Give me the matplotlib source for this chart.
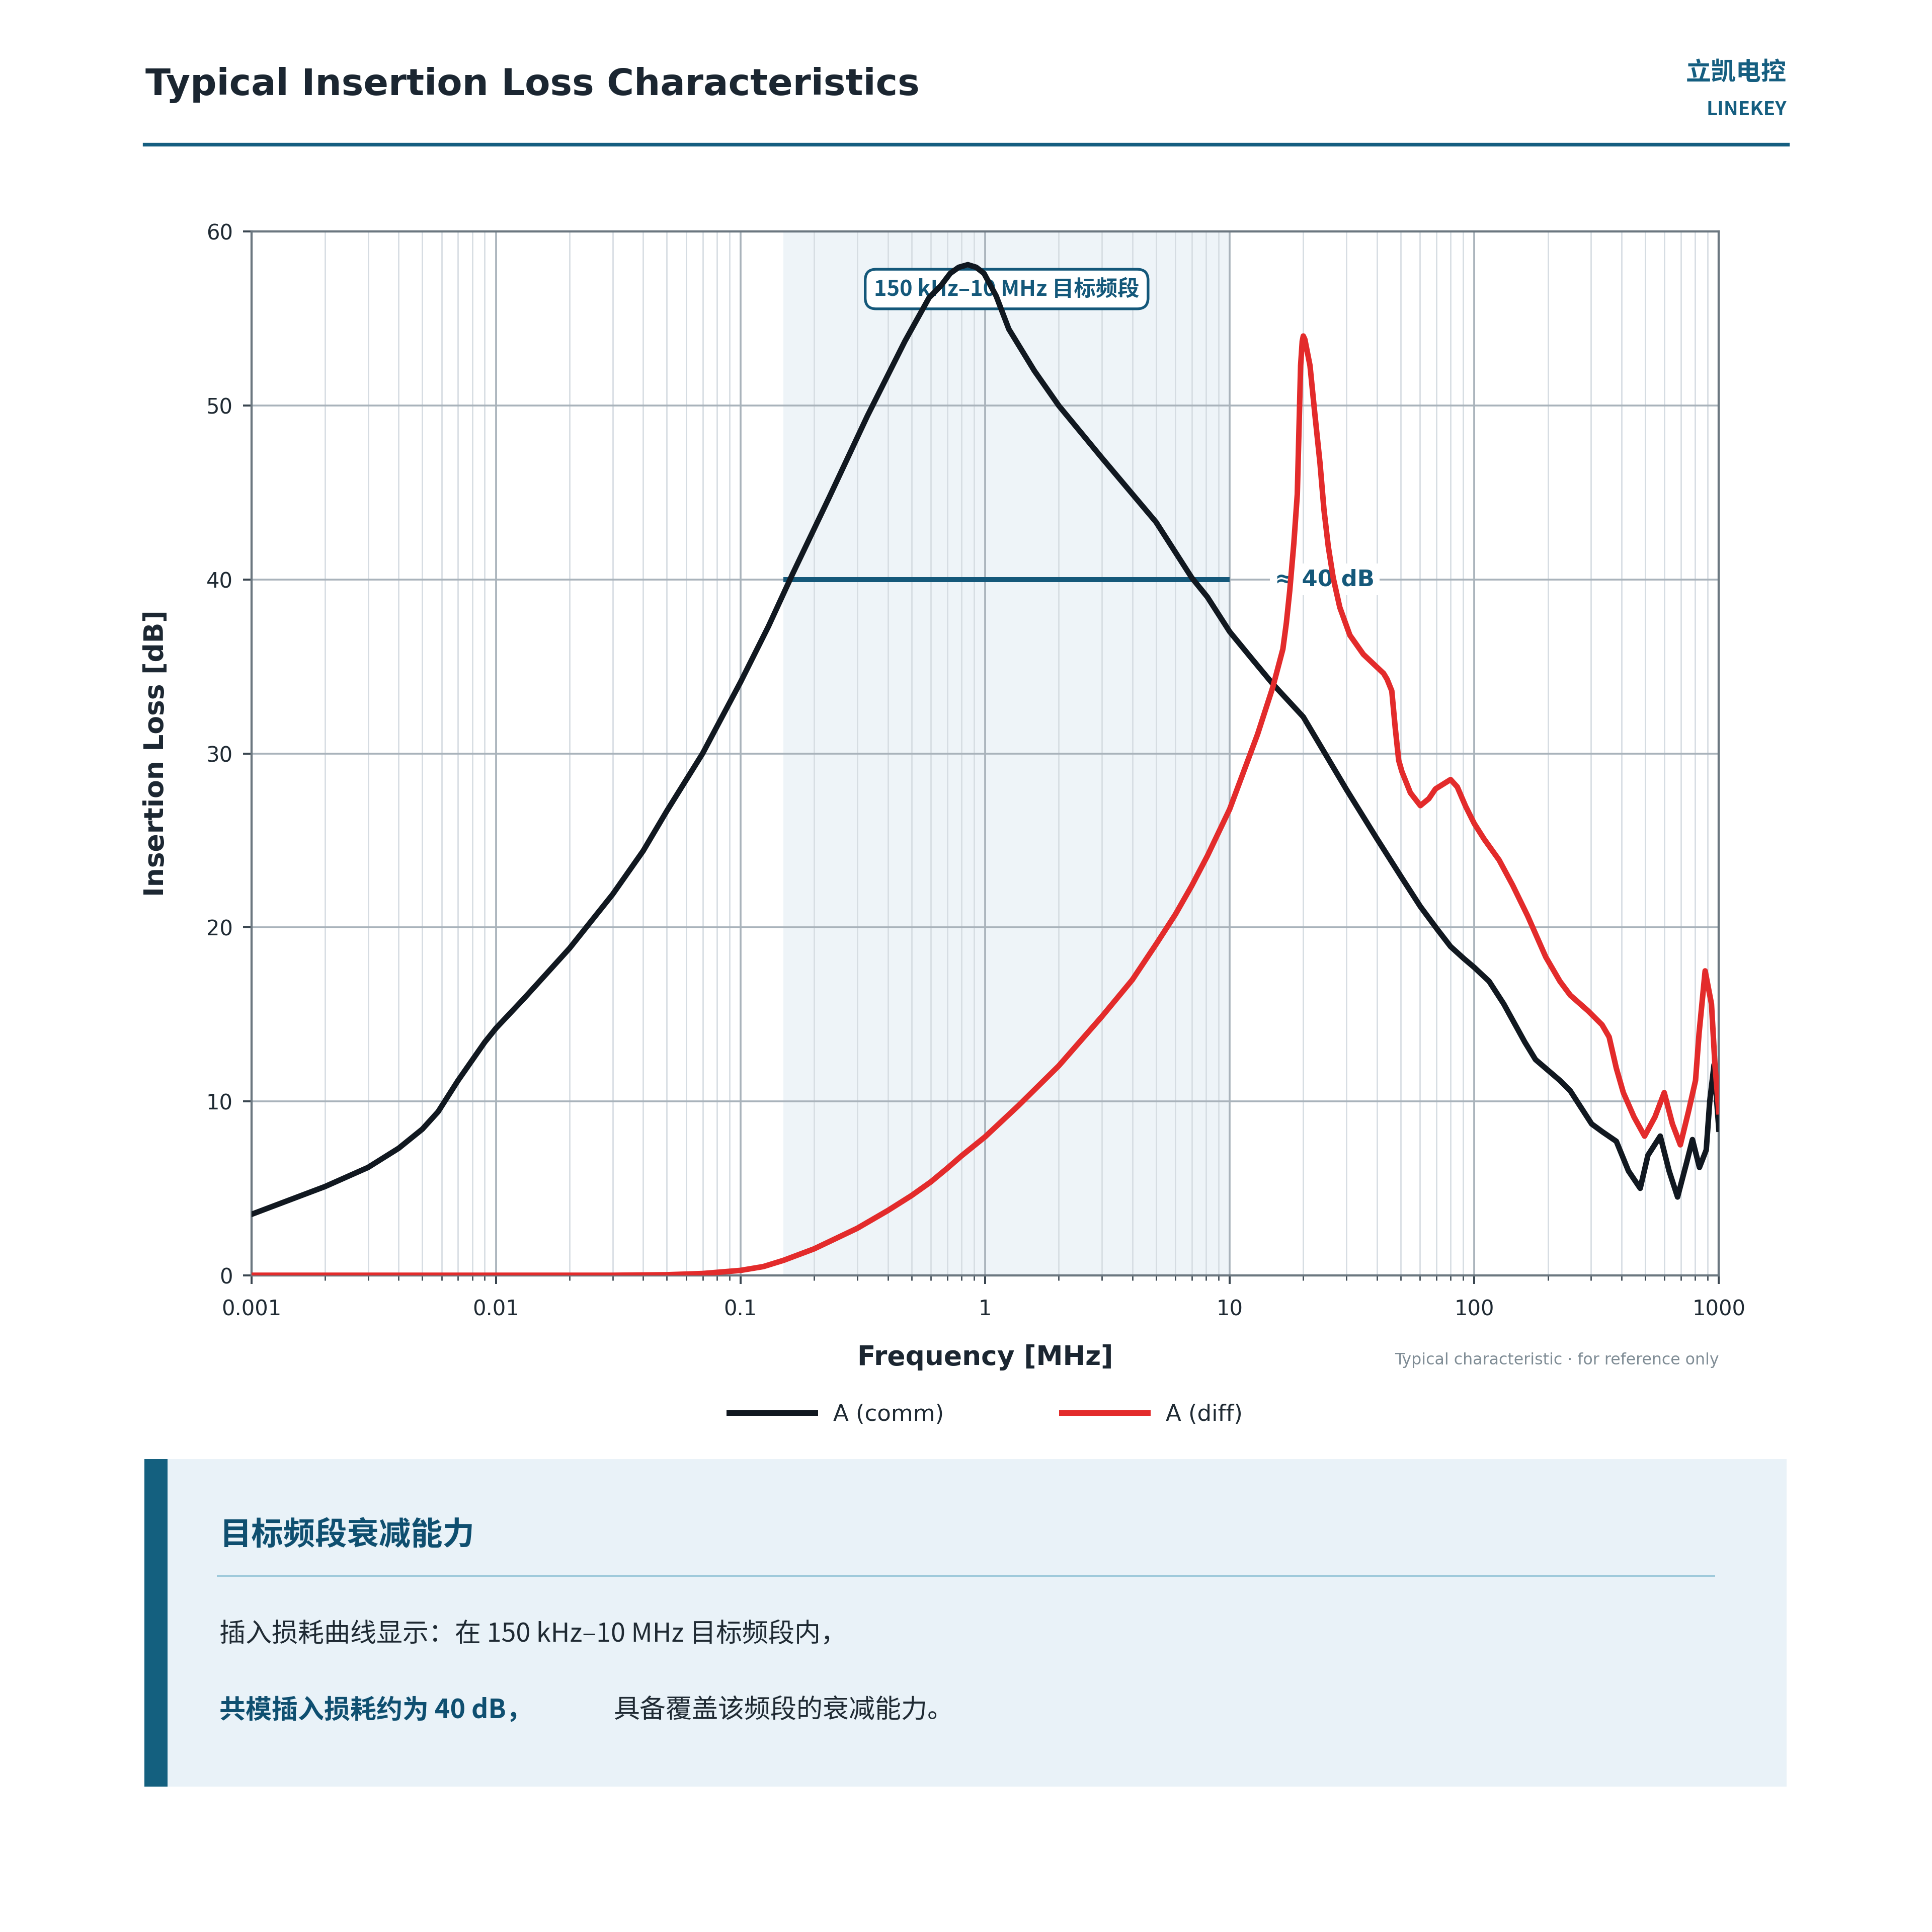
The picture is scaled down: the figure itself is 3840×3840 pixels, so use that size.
import matplotlib
matplotlib.use("Agg")
import matplotlib.pyplot as plt
from matplotlib.lines import Line2D
from matplotlib.patches import Rectangle
from matplotlib.ticker import FixedLocator, FixedFormatter, LogLocator, NullFormatter

# --- data ---
comm_freq = [0.001, 0.002, 0.003, 0.004, 0.005, 0.0058, 0.007, 0.009, 0.01, 0.013,
             0.02, 0.03, 0.04, 0.05, 0.07, 0.1, 0.13, 0.163, 0.23, 0.33,
             0.47, 0.59, 0.66, 0.72, 0.78, 0.85, 0.92, 0.99, 1.11, 1.25,
             1.41, 1.59, 2.0, 3.0, 3.9, 5.0, 7.0, 8.1, 10, 12.4,
             15, 20, 24.3, 30.1, 40, 50.3, 60.2, 70.5, 80,
             90.8, 100, 115, 132, 161, 178, 224, 247, 302, 334,
             381, 427, 477, 513, 576, 626, 678, 739, 780, 833,
             888, 918, 956, 1000]
comm_db = [3.5, 5.1, 6.2, 7.3, 8.4, 9.4, 11.2, 13.4, 14.2, 15.9,
           18.8, 21.9, 24.4, 26.7, 30.0, 34.1, 37.3, 40.3, 44.7, 49.4,
           53.7, 56.2, 56.9, 57.6, 57.95, 58.1, 57.95, 57.6, 56.3, 54.4,
           53.2, 52.0, 50.0, 47.0, 45.1, 43.3, 40.1, 39.0, 37.0, 35.4,
           34.0, 32.1, 30.1, 27.9, 25.1, 22.9, 21.2, 19.9, 18.9,
           18.2, 17.7, 16.9, 15.6, 13.4, 12.4, 11.2, 10.6, 8.7, 8.25,
           7.7, 6.0, 5.0, 6.9, 8.0, 6.0, 4.5, 6.5, 7.8, 6.2,
           7.2, 10.0, 12.1, 8.4]

diff_freq = [0.001, 0.01, 0.03, 0.05, 0.07, 0.1, 0.124, 0.15, 0.2, 0.3,
             0.4, 0.5, 0.6, 0.7, 0.8, 1.0, 1.37, 2.0, 3.0, 4.0,
             5.0, 6.0, 7.0, 8.1, 10, 13.0, 15.0, 16.5, 17.05, 17.6, 18.3,
             18.9, 19.2, 19.5, 19.8, 20.0, 20.3, 21.3, 22.3, 23.4, 24.3,
             25.3, 26.5, 28.2, 31.0, 35.2, 42.6, 44, 46, 47.5, 49.1,
             50.6, 54.8, 60.2, 65.2, 69.4, 80, 85.2, 92.2, 100, 109.7,
             126.4, 143.5, 165.3, 196, 224, 247, 292, 333, 356, 381,
             407, 450, 497, 548, 598, 646, 696, 751, 803, 830,
             879, 933, 964, 1000]
diff_db = [0, 0, 0, 0.03, 0.1, 0.28, 0.5, 0.86, 1.52, 2.7,
           3.72, 4.58, 5.37, 6.15, 6.86, 7.96, 9.76, 12.04, 14.87, 16.99,
           19.03, 20.75, 22.4, 24.1, 26.8, 31.1, 33.8, 36.0, 37.5, 39.35, 42.1,
           44.9, 48.6, 52.3, 53.7, 54.0, 53.8, 52.3, 49.5, 46.7, 44.0,
           41.9, 40.1, 38.4, 36.8, 35.7, 34.6, 34.27, 33.6, 31.5, 29.6,
           28.96, 27.74, 27.0, 27.4, 27.96, 28.5, 28.08, 26.96, 25.97, 25.08,
           23.87, 22.43, 20.66, 18.3, 16.9, 16.1, 15.2, 14.4, 13.7, 11.9,
           10.5, 9.1, 8.0, 9.1, 10.5, 8.7, 7.5, 9.4, 11.2, 13.9,
           17.5, 15.6, 12.1, 9.4]

x_ticks = [0.001, 0.01, 0.1, 1, 10, 100, 1000]
x_tick_labels = ["0.001", "0.01", "0.1", "1", "10", "100", "1000"]
y_ticks = [0, 10, 20, 30, 40, 50, 60]

band = (0.15, 10)
target_db = 40

CJK = ["Noto Sans CJK SC", "DejaVu Sans"]
BLUE = "#14587a"
DARK = "#1b2631"


def fx(px):
    return px / 1568


def fy(px):
    return 1 - px / 1568


fig = plt.figure(figsize=(16, 16), dpi=240)
fig.patch.set_facecolor("white")

# header
fig.text(fx(118), fy(69), "Typical Insertion Loss Characteristics", fontsize=22,
         weight="bold", color=DARK, va="center", ha="left")
fig.text(fx(1450), fy(59), "立凯电控", fontsize=15, weight="bold", color="#155e80",
         va="center", ha="right", family=CJK)
fig.text(fx(1450), fy(89), "LINEKEY", fontsize=11.5, weight="bold", color="#155e80",
         va="center", ha="right", family=CJK)
fig.add_artist(Line2D([fx(117), fx(1451)], [fy(117), fy(117)], color="#155e80", lw=2.2))

# main axes
ax = fig.add_axes([fx(204), fy(1035), fx(1191), 847 / 1568])
ax.set_xscale("log")
ax.set_xlim(0.001, 1000)
ax.set_ylim(0, 60)
ax.set_axisbelow(True)

ax.axvspan(band[0], band[1], color="#eef4f8", zorder=0.2, lw=0)

ax.xaxis.set_major_locator(FixedLocator(x_ticks))
ax.xaxis.set_major_formatter(FixedFormatter(x_tick_labels))
ax.xaxis.set_minor_locator(LogLocator(base=10, subs=range(2, 10), numticks=20))
ax.xaxis.set_minor_formatter(NullFormatter())
ax.set_yticks(y_ticks)

ax.grid(which="major", color="#a9b3bb", lw=1.1)
ax.grid(which="minor", axis="x", color="#d5dce2", lw=0.8)

ax.tick_params(which="major", length=5, width=1.2, color="#3a4650",
               labelsize=12.5, labelcolor="#1f2a33")
ax.tick_params(axis="x", which="major", pad=9)
ax.tick_params(axis="y", which="major", pad=6)
ax.tick_params(which="minor", length=3, width=0.8, color="#3a4650")
for s in ax.spines.values():
    s.set_color("#6b7780")
    s.set_linewidth(1.3)

ax.hlines(target_db, band[0], band[1], color=BLUE, lw=3.0, zorder=2.8)
ax.text(15.3, target_db, "≈ 40 dB", fontsize=13.5, weight="bold", color=BLUE,
        ha="left", va="center", zorder=2,
        bbox=dict(fc="white", ec="none", pad=3))
ax.text((band[0] * band[1]) ** 0.5, 56.7, "150 kHz–10 MHz 目标频段", fontsize=13,
        weight="bold", color=BLUE, ha="center", va="center", family=CJK, zorder=2.5,
        bbox=dict(boxstyle="round,pad=0.4,rounding_size=0.5", fc="white", ec=BLUE, lw=1.6))

ax.plot(comm_freq, comm_db, color="#111820", lw=3.3, label="A (comm)", zorder=3,
        solid_joinstyle="round")
ax.plot(diff_freq, diff_db, color="#e32b2b", lw=3.3, label="A (diff)", zorder=3.1,
        solid_joinstyle="round")

ax.set_xlabel("Frequency [MHz]", fontsize=16, weight="bold", color=DARK)
ax.set_ylabel("Insertion Loss [dB]", fontsize=16, weight="bold", color=DARK)
ax.xaxis.set_label_coords(0.5, -0.066)
ax.yaxis.set_label_coords(-0.056, 0.5)

fig.text(fx(1395), fy(1104), "Typical characteristic · for reference only", fontsize=9.5,
         color="#7f8c95", ha="right", va="center")

fig.legend(loc="center", bbox_to_anchor=(fx(800), fy(1148)), ncol=2, frameon=False,
           fontsize=13.5, handlelength=3.8, handletextpad=0.8, columnspacing=5.2,
           labelcolor="#1f2a33")

# bottom note panel
fig.add_artist(Rectangle((fx(117), fy(1450)), (1450 - 117) / 1568, (1450 - 1184) / 1568,
                         transform=fig.transFigure, fc="#e9f2f8", ec="none"))
fig.add_artist(Rectangle((fx(117), fy(1450)), 19 / 1568, (1450 - 1184) / 1568,
                         transform=fig.transFigure, fc="#14607f", ec="none"))
fig.text(fx(178), fy(1246), "目标频段衰减能力", fontsize=19, weight="bold",
         color="#0f4f70", va="center", ha="left", family=CJK)
fig.add_artist(Line2D([fx(177), fx(1391)], [fy(1279), fy(1279)], color="#9fcadb", lw=1.2))
fig.text(fx(178), fy(1326), "插入损耗曲线显示：在 150 kHz–10 MHz 目标频段内，", fontsize=15.6,
         color="#1f2a33", va="center", ha="left", family=CJK)
fig.text(fx(178), fy(1388), "共模插入损耗约为 40 dB，", fontsize=15.6, weight="bold",
         color="#0f4f70", va="center", ha="left", family=CJK)
fig.text(fx(498), fy(1388), "具备覆盖该频段的衰减能力。", fontsize=15.6,
         color="#1f2a33", va="center", ha="left", family=CJK)

fig.savefig("out.png", dpi=240, facecolor="white")
